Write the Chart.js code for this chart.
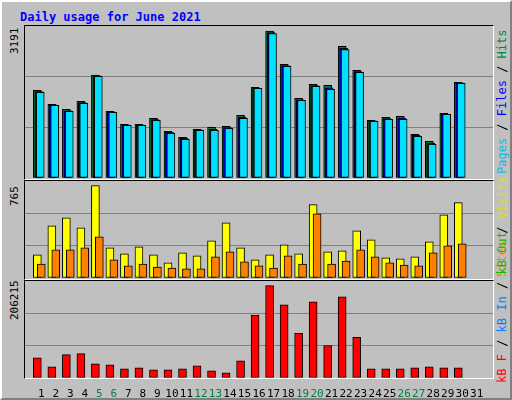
<!DOCTYPE html><html><head><meta charset="utf-8">
<script src="https://cdn.jsdelivr.net/npm/chart.js@4"></script>
<style>
body{margin:0;background:#fff}
#wrap{position:absolute;left:0;top:0;width:508px;height:396px;background:#C0C0C0;border-top:2px solid #fff;border-left:2px solid #fff;border-right:2px solid #808080;border-bottom:2px solid #808080;font-family:"DejaVu Sans Mono",monospace}
.panel{position:absolute;left:22px;width:468px;background:#C0C0C0;border-top:1px solid #000;border-left:1px solid #000;border-right:1px solid #fff;border-bottom:1px solid #fff}
.cv{position:absolute}
.rot{position:absolute;transform-origin:left top;transform:rotate(-90deg);white-space:nowrap;font-size:12px;line-height:12px}
#title{position:absolute;left:18px;top:8px;color:#0000FF;font-weight:bold;font-size:12px}
</style></head><body>
<div id="wrap">
<div id="title">Daily usage for June 2021</div>
<div class="panel" style="top:23px;height:153px"></div>
<div class="panel" style="top:178px;height:98px"></div>
<div class="panel" style="top:278px;height:97px"></div>
<div class="cv" style="left:23px;top:24px;width:468px;height:152px"><canvas id="c1"></canvas></div>
<div class="cv" style="left:23px;top:179px;width:468px;height:97px"><canvas id="c2"></canvas></div>
<div class="cv" style="left:23px;top:279px;width:468px;height:117px"><canvas id="c3"></canvas></div>
<div class="rot" style="left:7px;top:52px;font-size:11px">3191</div>
<div class="rot" style="left:7px;top:204px;font-size:11px">765</div>
<div class="rot" style="left:7px;top:318px;font-size:11px">206215</div>
<div class="rot" style="left:494px;top:172px"><span style="color:#00C0E0">Pages</span> / <span style="color:#0000FF">Files</span> / <span style="color:#008040">Hits</span></div>
<div class="rot" style="left:494px;top:275px"><span style="color:#FF8000">Sites</span> / <span style="color:#E0E000">Visits</span></div>
<div class="rot" style="left:494px;top:381px"><span style="color:#FF0000">kB F</span> / <span style="color:#0080FF">kB In</span> / <span style="color:#00C000">kB Out</span></div>
</div>
<script>
const days=[1,2,3,4,5,6,7,8,9,10,11,12,13,14,15,16,17,18,19,20,21,22,23,24,25,26,27,28,29,30,31];
const weekendDays=[5,6,12,13,19,20,26,27];
const hits=[1904,1600,1491,1665,2236,1448,1166,1166,1296,1014,884,1057,1101,1122,1361,1969,3191,2468,1730,2034,2012,2859,2338,1253,1318,1339,949,797,1404,2077,0];
const files=[1880,1590,1460,1640,2220,1436,1150,1150,1270,990,860,1045,1060,1095,1320,1955,3160,2440,1700,2010,1960,2820,2310,1240,1290,1300,925,760,1390,2065,0];
const pages=[1860,1578,1447,1621,2207,1426,1143,1143,1252,970,840,1035,1035,1078,1295,1946,3140,2424,1686,1990,1925,2793,2294,1230,1274,1274,905,731,1382,2055,0];
const visits=[191,432,499,416,765,249,200,258,191,125,208,183,308,457,249,150,191,274,200,607,216,225,391,316,166,158,175,299,524,624,0];
const sites=[116,233,233,249,341,150,100,116,91,83,75,75,175,216,133,100,83,183,116,532,116,141,233,175,125,108,100,208,266,283,0];
const kbytes=[45300,24900,52100,54400,31700,29500,20400,22700,18100,18100,20400,27200,15900,11300,38500,140500,206215,163200,99700,170000,72500,181300,90600,20400,20400,20400,22700,24900,22700,22700,0];
const maxHits=3191,maxVisits=765,maxKB=206215;

function ds(vals,off,color,order){return{data:days.map((d,i)=>({x:d+off,y:vals[i]})),backgroundColor:color,borderColor:'#000',borderWidth:1,borderSkipped:false,barThickness:8,grouped:false,order:order};}
function mk(id,sets,top,showX){
  new Chart(document.getElementById(id),{type:'bar',data:{datasets:sets},
  options:{responsive:true,maintainAspectRatio:false,animation:false,
   plugins:{legend:{display:false},tooltip:{enabled:false}},
   layout:{padding:0},
   scales:{
    x:{type:'linear',min:0.4,max:31.6,display:showX,grid:{display:false},border:{display:false},
       afterFit:s=>{if(showX)s.height=20;},
       afterBuildTicks:s=>{s.ticks=days.map(d=>({value:d}));},
       ticks:{autoSkip:false,maxRotation:0,padding:2,font:{family:'DejaVu Sans Mono',size:11},
         callback:v=>String(v),
         color:c=>weekendDays.includes(c.tick.value)?'#008040':'#000'}},
    y:{min:0,max:top,afterFit:s=>{s.width=0;},ticks:{display:false,stepSize:top/3},border:{display:false},
       grid:{color:c=>(c.tick.value>0&&c.tick.value<top*0.99)?'#808080':'rgba(0,0,0,0)',drawTicks:false,lineWidth:1}}}}});
}
mk('c1',[ds(hits,-0.27,'#008040',3),ds(files,-0.17,'#0000FF',2),ds(pages,-0.07,'#00E0FF',1)],maxHits*1.035,false);
mk('c2',[ds(visits,-0.27,'#FFFF00',2),ds(sites,0,'#FF8000',1)],maxVisits*1.05,false);
mk('c3',[ds(kbytes,-0.27,'#FF0000',1)],maxKB*1.05,true);
</script></body></html>
